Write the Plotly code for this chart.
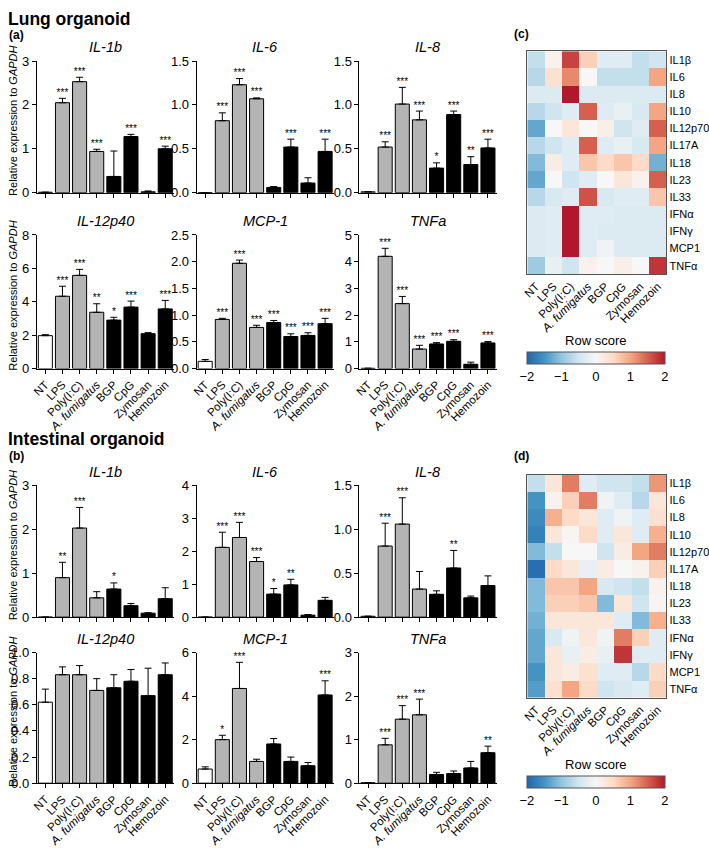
import plotly.graph_objects as go

W, H = 709, 858

categories = ["NT", "LPS", "Poly(I:C)", "A. fumigatus", "BGP", "CpG", "Zymosan", "Hemozoin"]
tick_labels = ["NT", "LPS", "Poly(I:C)", "<i>A. fumigatus</i>", "BGP", "CpG", "Zymosan", "Hemozoin"]
bar_colors = ["white", "#b4b4b4", "#b4b4b4", "#b4b4b4", "black", "black", "black", "black"]

# ---- Lung organoid ----
lung_il1b = [0.01, 2.05, 2.53, 0.94, 0.37, 1.28, 0.02, 1.00]
lung_il1b_err = [0.0, 0.10, 0.10, 0.05, 0.58, 0.05, 0.02, 0.06]
lung_il1b_sig = ["", "***", "***", "***", "", "***", "", "***"]

lung_il6 = [0.0, 0.82, 1.23, 1.07, 0.06, 0.52, 0.11, 0.47]
lung_il6_err = [0.0, 0.09, 0.07, 0.01, 0.01, 0.09, 0.06, 0.14]
lung_il6_sig = ["", "***", "***", "***", "", "***", "", "***"]

lung_il8 = [0.01, 0.52, 1.01, 0.83, 0.28, 0.89, 0.32, 0.51]
lung_il8_err = [0.0, 0.06, 0.19, 0.10, 0.06, 0.04, 0.09, 0.10]
lung_il8_sig = ["", "***", "***", "***", "*", "***", "**", "***"]

lung_il12p40 = [1.97, 4.33, 5.58, 3.37, 2.90, 3.68, 2.09, 3.57]
lung_il12p40_err = [0.06, 0.60, 0.36, 0.51, 0.17, 0.36, 0.06, 0.51]
lung_il12p40_sig = ["", "***", "***", "**", "*", "***", "", "***"]

lung_mcp1 = [0.135, 0.92, 1.97, 0.77, 0.86, 0.60, 0.62, 0.84]
lung_mcp1_err = [0.035, 0.02, 0.06, 0.04, 0.04, 0.05, 0.05, 0.10]
lung_mcp1_sig = ["", "***", "***", "***", "***", "***", "***", "***"]

lung_tnfa = [0.01, 4.20, 2.43, 0.73, 0.92, 1.02, 0.16, 0.96]
lung_tnfa_err = [0.0, 0.30, 0.27, 0.14, 0.05, 0.06, 0.08, 0.05]
lung_tnfa_sig = ["", "***", "***", "***", "***", "***", "", "***"]

# ---- Intestinal organoid ----
int_il1b = [0.0, 0.90, 2.03, 0.44, 0.64, 0.26, 0.09, 0.42]
int_il1b_err = [0.0, 0.35, 0.47, 0.14, 0.14, 0.05, 0.01, 0.25]
int_il1b_sig = ["", "**", "***", "", "*", "", "", ""]

int_il6 = [0.0, 2.12, 2.42, 1.69, 0.70, 0.98, 0.06, 0.51]
int_il6_err = [0.0, 0.46, 0.46, 0.12, 0.17, 0.17, 0.02, 0.09]
int_il6_sig = ["", "***", "***", "***", "*", "**", "", ""]

int_il8 = [0.01, 0.81, 1.06, 0.32, 0.26, 0.56, 0.22, 0.36]
int_il8_err = [0.0, 0.26, 0.30, 0.20, 0.04, 0.20, 0.02, 0.11]
int_il8_sig = ["", "***", "***", "", "", "**", "", ""]

int_il12p40 = [0.62, 0.83, 0.83, 0.71, 0.73, 0.78, 0.67, 0.83]
int_il12p40_err = [0.10, 0.06, 0.07, 0.09, 0.10, 0.09, 0.21, 0.09]
int_il12p40_sig = ["", "", "", "", "", "", "", ""]

int_mcp1 = [0.65, 2.0, 4.35, 1.0, 1.8, 1.0, 0.8, 4.05]
int_mcp1_err = [0.10, 0.20, 1.20, 0.10, 0.25, 0.20, 0.15, 0.65]
int_mcp1_sig = ["", "*", "***", "", "", "", "", "***"]

int_tnfa = [0.01, 0.88, 1.47, 1.57, 0.20, 0.22, 0.35, 0.70]
int_tnfa_err = [0.0, 0.15, 0.31, 0.36, 0.05, 0.06, 0.15, 0.15]
int_tnfa_sig = ["", "***", "***", "***", "", "", "", "**"]

# ---- Heatmaps (row scores) ----
cytokines = ["IL1β", "IL6", "IL8", "IL10", "IL12p70", "IL17A", "IL18", "IL23", "IL33",
             "IFNα", "IFNγ", "MCP1", "TNFα"]
lung_scores = [
    [-0.6, 0.1, 1.7, 0.6, -0.3, -0.3, -0.6, -0.5],
    [-0.7, 0.4, 1.2, 0.0, -0.6, -0.6, -0.6, 1.0],
    [-0.35, -0.35, 2.2, -0.35, -0.35, -0.35, -0.35, -0.35],
    [-0.7, -0.5, -0.3, 1.5, -0.3, -0.2, -0.4, 1.0],
    [-1.3, 0.0, 0.3, 0.0, 0.15, -0.5, -0.3, 1.5],
    [-0.7, -0.5, -0.3, 1.5, -0.3, -0.2, -0.4, 1.0],
    [-1.1, 0.2, -0.3, 0.7, 0.5, 0.7, 0.5, -1.2],
    [-1.3, 0.0, -0.5, -0.3, 0.0, 0.3, 0.1, 1.5],
    [-0.7, -0.4, -0.3, 1.6, -0.4, -0.3, -0.3, 0.7],
    [-0.35, -0.3, 2.2, -0.3, -0.3, -0.35, -0.35, -0.35],
    [-0.35, -0.3, 2.2, -0.3, -0.35, -0.35, -0.35, -0.35],
    [-0.35, -0.3, 2.2, -0.3, -0.1, -0.35, -0.35, -0.35],
    [-0.9, -0.2, -0.5, 0.1, 0.0, 0.15, 0.0, 1.8],
]
int_scores = [
    [-0.6, 0.3, 1.3, -0.3, -0.5, -0.5, -0.6, 1.1],
    [-1.5, 0.1, 0.6, 1.3, -0.1, -0.3, -0.7, 0.3],
    [-1.6, 0.9, 0.5, 0.3, -0.3, -0.1, -0.3, 0.4],
    [-1.7, 0.3, 0.05, 0.5, -0.3, 0.3, -0.3, 0.9],
    [-1.1, -0.6, 0.0, 0.0, -0.5, 0.2, 1.0, 1.3],
    [-1.9, 0.5, 0.3, -0.2, 0.2, 0.0, 0.1, 0.6],
    [-1.1, 0.7, 0.7, 1.0, -0.4, -0.5, -0.6, 0.1],
    [-1.1, 0.6, 0.6, 0.7, -1.1, 0.3, -0.5, 0.05],
    [-1.2, 0.3, 0.3, 0.3, 0.3, -0.3, -1.1, 0.9],
    [-1.3, -0.4, -0.1, 0.3, -0.1, 1.3, 0.6, -0.3],
    [-1.3, 0.3, -0.2, 0.2, -0.2, 1.8, -0.3, -0.3],
    [-1.5, 0.3, 0.2, 0.4, -0.3, -0.3, -0.7, 0.5],
    [-1.4, 0.4, 1.0, 0.5, -0.5, -0.4, -0.3, 0.6],
]

FONT = "Arial, Liberation Sans, sans-serif"

def fx(px):
    return px / W

def fy(py):
    return 1 - py / H

col_x = [(32, 170), (193, 331), (357, 495)]
row_y = [(55, 189), (232, 368), (487, 621), (657, 790)]

panels = [
    ("IL-1b", lung_il1b, lung_il1b_err, lung_il1b_sig, 3, 1, "d", 0, 0, False),
    ("IL-6", lung_il6, lung_il6_err, lung_il6_sig, 1.5, 0.5, ".1f", 1, 0, False),
    ("IL-8", lung_il8, lung_il8_err, lung_il8_sig, 1.5, 0.5, ".1f", 2, 0, False),
    ("IL-12p40", lung_il12p40, lung_il12p40_err, lung_il12p40_sig, 8, 2, "d", 0, 1, True),
    ("MCP-1", lung_mcp1, lung_mcp1_err, lung_mcp1_sig, 2.5, 0.5, ".1f", 1, 1, True),
    ("TNFa", lung_tnfa, lung_tnfa_err, lung_tnfa_sig, 5, 1, "d", 2, 1, True),
    ("IL-1b", int_il1b, int_il1b_err, int_il1b_sig, 3, 1, "d", 0, 2, False),
    ("IL-6", int_il6, int_il6_err, int_il6_sig, 4, 1, "d", 1, 2, False),
    ("IL-8", int_il8, int_il8_err, int_il8_sig, 1.5, 0.5, ".1f", 2, 2, False),
    ("IL-12p40", int_il12p40, int_il12p40_err, int_il12p40_sig, 1.0, 0.2, ".1f", 0, 3, True),
    ("MCP-1", int_mcp1, int_mcp1_err, int_mcp1_sig, 6, 2, "d", 1, 3, True),
    ("TNFa", int_tnfa, int_tnfa_err, int_tnfa_sig, 3, 1, "d", 2, 3, True),
]

fig = go.Figure()
layout = dict(
    width=W, height=H, margin=dict(l=0, r=0, t=0, b=0),
    paper_bgcolor="white", plot_bgcolor="white", showlegend=False,
    font=dict(family=FONT, color="black", size=12),
    bargap=0.18,
)
annotations = []

for i, (title, vals, errs, sig, ymax, dtick, fmt, c, r, show_lbl) in enumerate(panels):
    n = i + 1
    xa = "x" if n == 1 else f"x{n}"
    ya = "y" if n == 1 else f"y{n}"
    fig.add_trace(go.Bar(
        x=categories, y=vals, xaxis=xa, yaxis=ya,
        marker=dict(color=bar_colors, line=dict(color="black", width=1)),
        error_y=dict(type="data", symmetric=False, array=errs,
                     arrayminus=[0] * len(errs), color="black", thickness=1, width=3.5),
        hoverinfo="skip",
    ))
    tops = [v + e for v, e in zip(vals, errs)]
    fig.add_trace(go.Scatter(
        x=categories, y=tops, xaxis=xa, yaxis=ya, mode="text", text=sig,
        textposition="top center", textfont=dict(size=10, color="black"),
        hoverinfo="skip", cliponaxis=False,
    ))
    x0, x1 = col_x[c]
    yt, yb = row_y[r]
    layout["xaxis" if n == 1 else f"xaxis{n}"] = dict(
        domain=[fx(x0), fx(x1)], anchor=ya, type="category",
        range=[-0.5, 7.5], showline=True, linecolor="black", linewidth=1,
        ticks="outside", ticklen=4, tickcolor="black",
        tickvals=categories, ticktext=tick_labels,
        showticklabels=show_lbl, tickangle=-45, tickfont=dict(size=11.5),
        showgrid=False, zeroline=False, fixedrange=True,
    )
    layout["yaxis" if n == 1 else f"yaxis{n}"] = dict(
        domain=[fy(yb), fy(yt)], anchor=xa, range=[0, ymax],
        showline=True, linecolor="black", linewidth=1,
        ticks="outside", ticklen=4, tickcolor="black", dtick=dtick, tick0=0,
        tickformat=fmt, tickfont=dict(size=13),
        showgrid=False, zeroline=False, fixedrange=True,
    )
    annotations.append(dict(
        text=f"<i>{title}</i>", x=fx((x0 + x1) / 2), y=fy(yt - 14),
        xref="paper", yref="paper", showarrow=False, font=dict(size=14.5),
        xanchor="center", yanchor="middle",
    ))

# Y titles
for r in range(4):
    yt, yb = row_y[r]
    annotations.append(dict(
        text="Relative expression to <i>GAPDH</i>", x=fx(8), y=fy((yt + yb) / 2 - 6),
        xref="paper", yref="paper", showarrow=False, textangle=-90,
        font=dict(size=11), xanchor="center", yanchor="middle",
    ))

# Heatmaps
colorscale = [
    [0.0, "#2166ac"], [0.125, "#4393c3"], [0.25, "#92c5de"], [0.375, "#d1e5f0"],
    [0.5, "#f7f7f7"], [0.625, "#fddbc7"], [0.75, "#f4a582"], [0.875, "#d6604d"],
    [1.0, "#b2182b"],
]
heat_specs = [(lung_scores, 45, 272, 336), (int_scores, 476, 703, 767)]
for j, (z, yt, yb, cby) in enumerate(heat_specs):
    n = 13 + j
    xa, ya = f"x{n}", f"y{n}"
    fig.add_trace(go.Heatmap(
        z=z, x=categories, y=cytokines, xaxis=xa, yaxis=ya,
        colorscale=colorscale, zmin=-2, zmax=2, hoverinfo="skip",
        colorbar=dict(
            orientation="h", x=fx((526 + 664) / 2), xanchor="center",
            y=fy(cby), yanchor="top", lenmode="pixels", len=138,
            thicknessmode="pixels", thickness=12, xpad=0, ypad=0,
            outlinewidth=1, outlinecolor="#555",
            tickvals=[-2, -1, 0, 1, 2], ticks="", tickfont=dict(size=13),
            title=dict(text="Row score", side="top", font=dict(size=13)),
        ),
    ))
    layout[f"xaxis{n}"] = dict(
        domain=[fx(526), fx(666)], anchor=ya, tickvals=categories, ticktext=tick_labels,
        tickangle=-45, tickfont=dict(size=11.5), showline=True, mirror=True,
        linecolor="#555", linewidth=1, ticks="", showgrid=False, zeroline=False,
        fixedrange=True,
    )
    layout[f"yaxis{n}"] = dict(
        domain=[fy(yb), fy(yt)], anchor=xa, side="right", autorange="reversed",
        tickfont=dict(size=11), showline=True, mirror=True, linecolor="#555",
        linewidth=1, ticks="", showgrid=False, zeroline=False, fixedrange=True,
    )

# Section titles and panel letters
for txt, x, y, size in [
    ("<b>Lung organoid</b>", 1, 12, 17.5), ("<b>(a)</b>", 2, 29, 12),
    ("<b>Intestinal organoid</b>", 1, 440, 17.5), ("<b>(b)</b>", 2, 457, 12),
    ("<b>(c)</b>", 511, 27, 12), ("<b>(d)</b>", 511, 457, 12),
]:
    annotations.append(dict(
        text=txt, x=fx(x), y=fy(y), xref="paper", yref="paper", showarrow=False,
        font=dict(size=size), xanchor="left", yanchor="middle",
    ))

layout["annotations"] = annotations
fig.update_layout(**layout)
fig.write_html(
    "out.html",
    config={"displayModeBar": False},
    post_script="document.body.style.margin='0';document.body.style.overflow='hidden';",
)
